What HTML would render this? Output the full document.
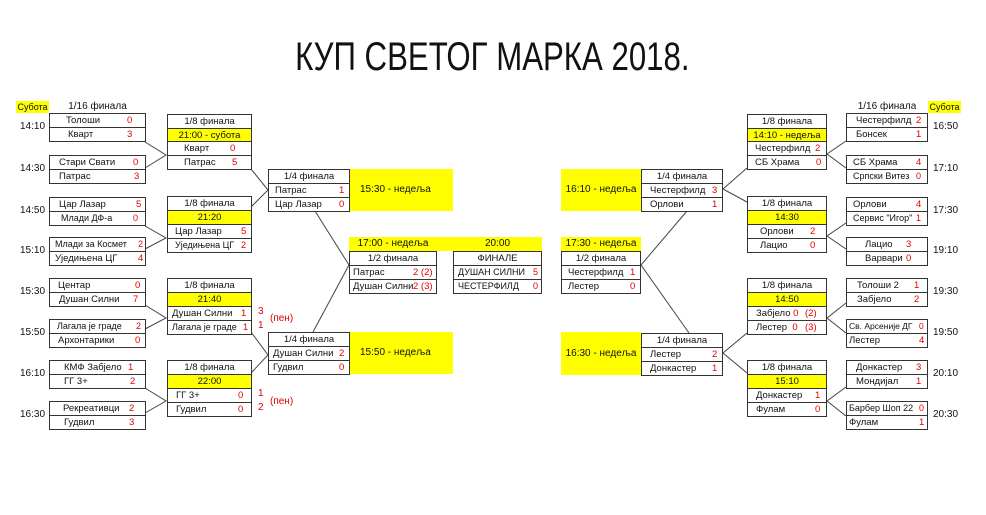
<!DOCTYPE html>
<html><head><meta charset="utf-8">
<style>
body{margin:0;width:986px;height:515px;background:#fff;position:relative;overflow:hidden;font-family:"Liberation Sans",Arial,sans-serif;color:#111}
.c{position:absolute;box-sizing:border-box;height:15px;border:1.5px solid #333;font-size:9.5px;line-height:13px;padding-left:6px;white-space:nowrap;background:#fff}
.c i{position:absolute;font-style:normal;color:#e00000;top:0}
.t{text-align:center;padding-left:0}
.y{background:#ffff00}
.yb{position:absolute;background:#ffff00;font-size:10px}
.tm{position:absolute;font-size:10px}
.r{position:absolute;color:#e00000;font-size:10px}
h1{position:absolute;left:0;width:986px;top:35px;margin:0;text-align:center;font-weight:normal;font-size:40px;transform:scaleX(0.78);transform-origin:490px 0}
svg{position:absolute;left:0;top:0}
</style></head><body>
<h1>КУП СВЕТОГ МАРКА 2018.</h1>
<svg width="986" height="515"><g stroke="#444" stroke-width="1" fill="none">
<path d="M145 142L166 155L145 168M145 226L166 238L145 249M145 305L166 318L145 329M145 388L166 401L145 413"/>
<path d="M251 169L268 190L251 207M251 332L268 355L251 373"/>
<path d="M315 211L349 265L313 332M687 211L641 265L689 333"/>
<path d="M747 168L723 189L747 202M747 333L723 353L747 373"/>
<path d="M846 141L827 154L846 168M846 223L827 236L846 249M846 303L827 318L846 333M846 387L827 401L846 416"/>
</g></svg>

<div class="yb" style="left:16px;top:101px;width:33px;height:12px;line-height:12px;font-size:9px;text-align:center">Субота</div>
<div class="tm" style="left:49px;top:101px;width:97px;text-align:center">1/16 финала</div>
<div class="yb" style="left:928px;top:101px;width:33px;height:12px;line-height:12px;font-size:9px;text-align:center">Субота</div>
<div class="tm" style="left:846px;top:101px;width:82px;text-align:center">1/16 финала</div>

<div class="tm" style="left:20px;top:121px">14:10</div>
<div class="tm" style="left:20px;top:163px">14:30</div>
<div class="tm" style="left:20px;top:205px">14:50</div>
<div class="tm" style="left:20px;top:245px">15:10</div>
<div class="tm" style="left:20px;top:286px">15:30</div>
<div class="tm" style="left:20px;top:327px">15:50</div>
<div class="tm" style="left:20px;top:368px">16:10</div>
<div class="tm" style="left:20px;top:409px">16:30</div>

<div class="tm" style="left:933px;top:121px">16:50</div>
<div class="tm" style="left:933px;top:163px">17:10</div>
<div class="tm" style="left:933px;top:205px">17:30</div>
<div class="tm" style="left:933px;top:245px">19:10</div>
<div class="tm" style="left:933px;top:286px">19:30</div>
<div class="tm" style="left:933px;top:327px">19:50</div>
<div class="tm" style="left:933px;top:368px">20:10</div>
<div class="tm" style="left:933px;top:409px">20:30</div>

<!-- left 1/16 -->
<div class="c" style="left:49px;top:113px;width:97px;padding-left:16px">Толоши<i style="left:77px">0</i></div>
<div class="c" style="left:49px;top:127px;width:97px;padding-left:18px">Кварт<i style="left:77px">3</i></div>
<div class="c" style="left:49px;top:155px;width:97px;padding-left:9px">Стари Свати<i style="left:83px">0</i></div>
<div class="c" style="left:49px;top:169px;width:97px;padding-left:9px">Патрас<i style="left:84px">3</i></div>
<div class="c" style="left:49px;top:197px;width:97px;padding-left:9px">Цар Лазар<i style="left:86px">5</i></div>
<div class="c" style="left:49px;top:211px;width:97px;padding-left:11px;font-size:9px">Млади ДФ-а<i style="left:83px">0</i></div>
<div class="c" style="left:49px;top:237px;width:97px;padding-left:5px;font-size:9px">Млади за Космет<i style="left:88px">2</i></div>
<div class="c" style="left:49px;top:251px;width:97px;padding-left:5px">Уједињена ЦГ<i style="left:88px">4</i></div>
<div class="c" style="left:49px;top:278px;width:97px;padding-left:8px">Центар<i style="left:85px">0</i></div>
<div class="c" style="left:49px;top:292px;width:97px;padding-left:9px">Душан Силни<i style="left:83px">7</i></div>
<div class="c" style="left:49px;top:319px;width:97px;padding-left:7px;font-size:9px">Лагала је граде<i style="left:86px">2</i></div>
<div class="c" style="left:49px;top:333px;width:97px;padding-left:8px">Архонтарики<i style="left:85px">0</i></div>
<div class="c" style="left:49px;top:360px;width:97px;padding-left:14px">КМФ Забјело<i style="left:78px">1</i></div>
<div class="c" style="left:49px;top:374px;width:97px;padding-left:14px">ГГ 3+<i style="left:80px">2</i></div>
<div class="c" style="left:49px;top:401px;width:97px;padding-left:13px">Рекреативци<i style="left:79px">2</i></div>
<div class="c" style="left:49px;top:415px;width:97px;padding-left:14px">Гудвил<i style="left:79px">3</i></div>

<!-- left 1/8 -->
<div class="c t" style="left:167px;top:114px;width:85px">1/8 финала</div>
<div class="c t y" style="left:167px;top:128px;width:85px">21:00 - субота</div>
<div class="c" style="left:167px;top:141px;width:85px;padding-left:16px">Кварт<i style="left:62px">0</i></div>
<div class="c" style="left:167px;top:155px;width:85px;padding-left:16px">Патрас<i style="left:64px">5</i></div>
<div class="c t" style="left:167px;top:196px;width:85px">1/8 финала</div>
<div class="c t y" style="left:167px;top:210px;width:85px">21:20</div>
<div class="c" style="left:167px;top:224px;width:85px;padding-left:7px">Цар Лазар<i style="left:73px">5</i></div>
<div class="c" style="left:167px;top:238px;width:85px;padding-left:7px;font-size:9px">Уједињена ЦГ<i style="left:73px">2</i></div>
<div class="c t" style="left:167px;top:278px;width:85px">1/8 финала</div>
<div class="c t y" style="left:167px;top:292px;width:85px">21:40</div>
<div class="c" style="left:167px;top:306px;width:85px;padding-left:4px">Душан Силни<i style="left:73px">1</i></div>
<div class="c" style="left:167px;top:320px;width:85px;padding-left:4px;font-size:9px">Лагала је граде<i style="left:75px">1</i></div>
<div class="r" style="left:258px;top:306px">3</div>
<div class="r" style="left:258px;top:320px">1</div>
<div class="r" style="left:270px;top:313px">(пен)</div>
<div class="c t" style="left:167px;top:360px;width:85px">1/8 финала</div>
<div class="c t y" style="left:167px;top:374px;width:85px">22:00</div>
<div class="c" style="left:167px;top:388px;width:85px;padding-left:8px">ГГ 3+<i style="left:70px">0</i></div>
<div class="c" style="left:167px;top:402px;width:85px;padding-left:8px">Гудвил<i style="left:70px">0</i></div>
<div class="r" style="left:258px;top:388px">1</div>
<div class="r" style="left:258px;top:402px">2</div>
<div class="r" style="left:270px;top:396px">(пен)</div>

<!-- left 1/4 -->
<div class="yb" style="left:350px;top:169px;width:103px;height:42px;line-height:42px;padding-left:10px;box-sizing:border-box">15:30 - недеља</div>
<div class="c t" style="left:268px;top:169px;width:82px">1/4 финала</div>
<div class="c" style="left:268px;top:183px;width:82px">Патрас<i style="left:70px">1</i></div>
<div class="c" style="left:268px;top:197px;width:82px">Цар Лазар<i style="left:70px">0</i></div>
<div class="yb" style="left:350px;top:332px;width:103px;height:42px;line-height:42px;padding-left:10px;box-sizing:border-box">15:50 - недеља</div>
<div class="c t" style="left:268px;top:332px;width:82px">1/4 финала</div>
<div class="c" style="left:268px;top:346px;width:82px;padding-left:4px">Душан Силни<i style="left:70px">2</i></div>
<div class="c" style="left:268px;top:360px;width:82px;padding-left:4px">Гудвил<i style="left:70px">0</i></div>

<!-- semis/final -->
<div class="yb" style="left:349px;top:237px;width:193px;height:14px;line-height:14px"><span style="position:absolute;left:0;width:88px;text-align:center">17:00 - недеља</span><span style="position:absolute;left:104px;width:89px;text-align:center">20:00</span></div>
<div class="c t" style="left:349px;top:251px;width:88px">1/2 финала</div>
<div class="c" style="left:349px;top:265px;width:88px;padding-left:3px">Патрас<i style="left:63px">2 (2)</i></div>
<div class="c" style="left:349px;top:279px;width:88px;padding-left:3px">Душан Силни<i style="left:63px">2 (3)</i></div>
<div class="c t" style="left:453px;top:251px;width:89px">ФИНАЛЕ</div>
<div class="c" style="left:453px;top:265px;width:89px;padding-left:4px;font-size:9px">ДУШАН СИЛНИ<i style="left:79px">5</i></div>
<div class="c" style="left:453px;top:279px;width:89px;padding-left:4px;font-size:9px">ЧЕСТЕРФИЛД<i style="left:79px">0</i></div>

<div class="yb" style="left:561px;top:237px;width:80px;height:14px;line-height:14px;text-align:center">17:30 - недеља</div>
<div class="c t" style="left:561px;top:251px;width:80px">1/2 финала</div>
<div class="c" style="left:561px;top:265px;width:80px">Честерфилд<i style="left:68px">1</i></div>
<div class="c" style="left:561px;top:279px;width:80px">Лестер<i style="left:68px">0</i></div>

<!-- right 1/4 -->
<div class="yb" style="left:561px;top:169px;width:80px;height:42px;line-height:42px;text-align:center">16:10 - недеља</div>
<div class="c t" style="left:641px;top:169px;width:82px">1/4 финала</div>
<div class="c" style="left:641px;top:183px;width:82px;padding-left:8px">Честерфилд<i style="left:70px">3</i></div>
<div class="c" style="left:641px;top:197px;width:82px;padding-left:8px">Орлови<i style="left:70px">1</i></div>
<div class="yb" style="left:561px;top:332px;width:80px;height:43px;line-height:43px;text-align:center">16:30 - недеља</div>
<div class="c t" style="left:641px;top:333px;width:82px">1/4 финала</div>
<div class="c" style="left:641px;top:347px;width:82px;padding-left:8px">Лестер<i style="left:70px">2</i></div>
<div class="c" style="left:641px;top:361px;width:82px;padding-left:8px">Донкастер<i style="left:70px">1</i></div>

<!-- right 1/8 -->
<div class="c t" style="left:747px;top:114px;width:80px">1/8 финала</div>
<div class="c t y" style="left:747px;top:128px;width:80px">14:10 - недеља</div>
<div class="c" style="left:747px;top:141px;width:80px;padding-left:7px">Честерфилд<i style="left:67px">2</i></div>
<div class="c" style="left:747px;top:155px;width:80px;padding-left:7px">СБ Храма<i style="left:68px">0</i></div>
<div class="c t" style="left:747px;top:196px;width:80px">1/8 финала</div>
<div class="c t y" style="left:747px;top:210px;width:80px">14:30</div>
<div class="c" style="left:747px;top:224px;width:80px;padding-left:12px">Орлови<i style="left:62px">2</i></div>
<div class="c" style="left:747px;top:238px;width:80px;padding-left:12px">Лацио<i style="left:62px">0</i></div>
<div class="c t" style="left:747px;top:278px;width:80px">1/8 финала</div>
<div class="c t y" style="left:747px;top:292px;width:80px">14:50</div>
<div class="c" style="left:747px;top:306px;width:80px;padding-left:8px">Забјело <span style="color:#e00000">0</span><i style="left:57px">(2)</i></div>
<div class="c" style="left:747px;top:320px;width:80px;padding-left:8px">Лестер&nbsp; <span style="color:#e00000">0</span><i style="left:57px">(3)</i></div>
<div class="c t" style="left:747px;top:360px;width:80px">1/8 финала</div>
<div class="c t y" style="left:747px;top:374px;width:80px">15:10</div>
<div class="c" style="left:747px;top:388px;width:80px;padding-left:8px">Донкастер<i style="left:67px">1</i></div>
<div class="c" style="left:747px;top:402px;width:80px;padding-left:8px">Фулам<i style="left:67px">0</i></div>

<!-- right 1/16 -->
<div class="c" style="left:846px;top:113px;width:82px;padding-left:9px">Честерфилд<i style="left:69px">2</i></div>
<div class="c" style="left:846px;top:127px;width:82px;padding-left:9px">Бонсек<i style="left:69px">1</i></div>
<div class="c" style="left:846px;top:155px;width:82px;padding-left:6px">СБ Храма<i style="left:69px">4</i></div>
<div class="c" style="left:846px;top:169px;width:82px;padding-left:6px;font-size:9px">Српски Витез<i style="left:69px">0</i></div>
<div class="c" style="left:846px;top:197px;width:82px;padding-left:6px">Орлови<i style="left:69px">4</i></div>
<div class="c" style="left:846px;top:211px;width:82px;padding-left:6px;font-size:9px">Сервис "Игор"<i style="left:69px">1</i></div>
<div class="c" style="left:846px;top:237px;width:82px;padding-left:18px">Лацио<i style="left:59px">3</i></div>
<div class="c" style="left:846px;top:251px;width:82px;padding-left:18px">Варвари<i style="left:59px">0</i></div>
<div class="c" style="left:846px;top:278px;width:82px;padding-left:10px">Толоши 2<i style="left:67px">1</i></div>
<div class="c" style="left:846px;top:292px;width:82px;padding-left:10px">Забјело<i style="left:67px">2</i></div>
<div class="c" style="left:846px;top:319px;width:82px;padding-left:2px;font-size:8.5px">Св. Арсеније ДГ<i style="left:72px">0</i></div>
<div class="c" style="left:846px;top:333px;width:82px;padding-left:2px">Лестер<i style="left:72px">4</i></div>
<div class="c" style="left:846px;top:360px;width:82px;padding-left:9px">Донкастер<i style="left:69px">3</i></div>
<div class="c" style="left:846px;top:374px;width:82px;padding-left:9px">Мондијал<i style="left:69px">1</i></div>
<div class="c" style="left:846px;top:401px;width:82px;padding-left:2px;font-size:9px">Барбер Шоп 22<i style="left:72px">0</i></div>
<div class="c" style="left:846px;top:415px;width:82px;padding-left:2px">Фулам<i style="left:72px">1</i></div>
</body></html>
